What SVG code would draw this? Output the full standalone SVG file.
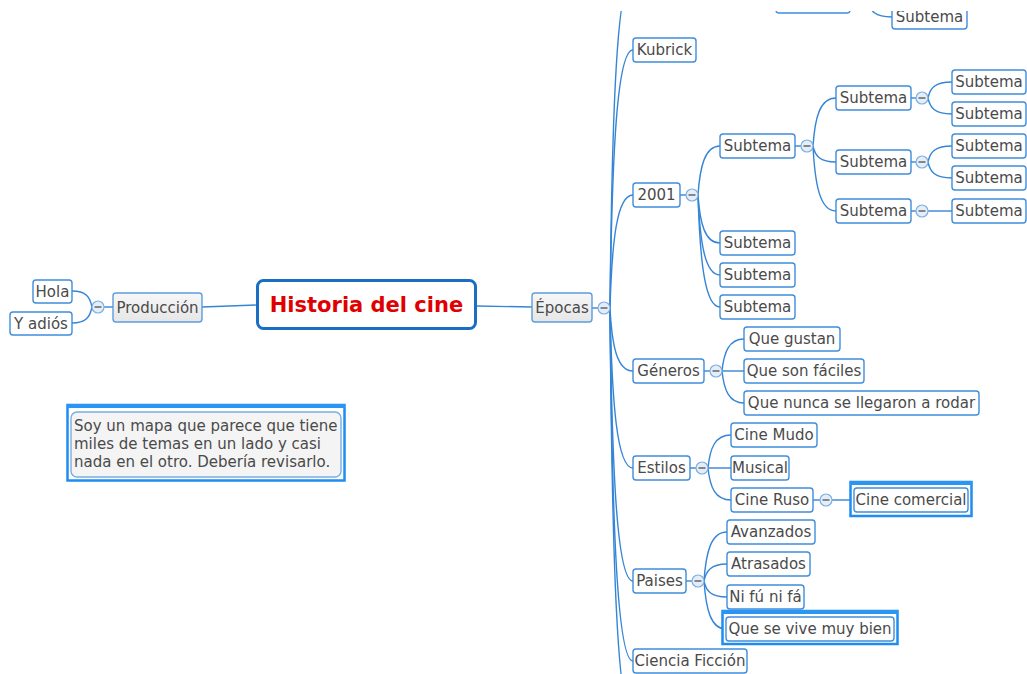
<svg xmlns="http://www.w3.org/2000/svg" width="1027" height="674" viewBox="0 0 1027 674">
<defs>
<style>
.c{fill:none;stroke:#3585d6;stroke-width:1.4}
.b{fill:#fff;stroke:#3f8ddb;stroke-width:1.4}
.g{fill:url(#gr);stroke:#5c9ddf;stroke-width:1.4}
.t{font-family:"DejaVu Sans",Verdana,sans-serif;font-size:15px;fill:#4a4a4a;text-anchor:middle}
.tl{font-family:"DejaVu Sans",Verdana,sans-serif;font-size:15px;fill:#4a4a4a}
.k{fill:#e3eef9;stroke:#7eaee0;stroke-width:1.2}
.m{stroke:#444;stroke-width:1.2}
.sel{fill:#fff;stroke:#1e8cf0;stroke-width:2.5}
.selt{fill:#2b95f3}
</style>
<linearGradient id="gr" x1="0" y1="0" x2="0" y2="1">
<stop offset="0" stop-color="#f7f7f7"/>
<stop offset="1" stop-color="#e6e6e6"/>
</linearGradient>
<clipPath id="clip"><rect x="0" y="11" width="1027" height="663"/></clipPath>
</defs>
<rect width="1027" height="674" fill="#fff"/>
<g clip-path="url(#clip)">
<g id="connectors">
<path class="c" d="M257 305 L202 307"/>
<path class="c" d="M476 306 L532 307"/>
<path class="c" d="M113 307 L104 307"/>
<path class="c" d="M92 307 C90 297 86 291 72 291"/>
<path class="c" d="M92 307 C90 317 86 323 72 323"/>
<path class="c" d="M592 308 L598 308"/>
<path class="c" d="M610 308 C612 108 617 -25 633 -25"/>
<path class="c" d="M610 308 C612 153 617 50 633 50"/>
<path class="c" d="M610 308 C612 240 617 195 633 195"/>
<path class="c" d="M610 308 C612 346 617 371 633 371"/>
<path class="c" d="M610 308 C612 404 617 468 633 468"/>
<path class="c" d="M610 308 C612 472 617 581 633 581"/>
<path class="c" d="M610 308 C612 520 617 661 633 661"/>
<path class="c" d="M610 308 C612 555 617 720 633 720"/>
<path class="c" d="M868 1 C870 11 875 17 892 17"/>
<path class="c" d="M680 195 L686 195"/>
<path class="c" d="M698 195 C700 166 705 146 720 146"/>
<path class="c" d="M698 195 C700 224 705 243 720 243"/>
<path class="c" d="M698 195 C700 243 705 275 720 275"/>
<path class="c" d="M698 195 C700 262 705 307 720 307"/>
<path class="c" d="M795 146 L801 146"/>
<path class="c" d="M813 146 C815 117 820 98 836 98"/>
<path class="c" d="M813 146 C815 156 820 162 836 162"/>
<path class="c" d="M813 146 C815 185 820 211 836 211"/>
<path class="c" d="M911 98 L916 98"/>
<path class="c" d="M911 162 L916 162"/>
<path class="c" d="M911 211 L916 211"/>
<path class="c" d="M928 98 C930 88 935 82 952 82"/>
<path class="c" d="M928 98 C930 108 935 114 952 114"/>
<path class="c" d="M928 162 C930 152 935 146 952 146"/>
<path class="c" d="M928 162 C930 172 935 178 952 178"/>
<path class="c" d="M928 211 L952 211"/>
<path class="c" d="M704 371 L710 371"/>
<path class="c" d="M722 371 C724 352 729 339 744 339"/>
<path class="c" d="M722 371 L744 371"/>
<path class="c" d="M722 371 C724 390 729 403 744 403"/>
<path class="c" d="M690 468 L696 468"/>
<path class="c" d="M708 468 C710 448 715 435 731 435"/>
<path class="c" d="M708 468 L731 468"/>
<path class="c" d="M708 468 C710 487 715 500 731 500"/>
<path class="c" d="M813 500 L820 500"/>
<path class="c" d="M832 500 L854 500"/>
<path class="c" d="M686 581 L692 581"/>
<path class="c" d="M704 581 C706 552 711 532 727 532"/>
<path class="c" d="M704 581 C706 571 711 564 727 564"/>
<path class="c" d="M704 581 C706 591 711 597 727 597"/>
<path class="c" d="M704 581 C706 610 711 629 726 629"/>
</g>
<g id="collapse">
<circle class="k" cx="98" cy="307" r="6"/><path class="m" d="M94.5 307h7"/>
<circle class="k" cx="604" cy="308" r="6"/><path class="m" d="M600.5 308h7"/>
<circle class="k" cx="692" cy="195" r="6"/><path class="m" d="M688.5 195h7"/>
<circle class="k" cx="807" cy="146" r="6"/><path class="m" d="M803.5 146h7"/>
<circle class="k" cx="922" cy="98" r="6"/><path class="m" d="M918.5 98h7"/>
<circle class="k" cx="922" cy="162" r="6"/><path class="m" d="M918.5 162h7"/>
<circle class="k" cx="922" cy="211" r="6"/><path class="m" d="M918.5 211h7"/>
<circle class="k" cx="716" cy="371" r="6"/><path class="m" d="M712.5 371h7"/>
<circle class="k" cx="702" cy="468" r="6"/><path class="m" d="M698.5 468h7"/>
<circle class="k" cx="826" cy="500" r="6"/><path class="m" d="M822.5 500h7"/>
<circle class="k" cx="698" cy="581" r="6"/><path class="m" d="M694.5 581h7"/>
</g>
<g id="n-historia"><rect x="257.5" y="280.5" width="218" height="48" rx="6" fill="#fff" stroke="#1a6fc4" stroke-width="3"/><text x="366.5" y="312" style="font-family:'DejaVu Sans',Verdana,sans-serif;font-size:21px;font-weight:bold;fill:#e00000;text-anchor:middle">Historia del cine</text></g>
<g id="n-produccion"><rect class="g" x="113" y="293" width="89" height="29" rx="3"/><text class="t" x="157.5" y="312.5">Producción</text></g>
<g id="n-hola"><rect class="b" x="33" y="280" width="39" height="23" rx="3"/><text class="t" x="52.5" y="296.5">Hola</text></g>
<g id="n-yadios"><rect class="b" x="10" y="312" width="62" height="23" rx="3"/><text class="t" x="41" y="328.5">Y adiós</text></g>
<g id="n-epocas"><rect class="g" x="532" y="293" width="60" height="29" rx="3"/><text class="t" x="562" y="313">Épocas</text></g>
<g id="n-top1"><rect class="b" x="776" y="-11" width="74" height="24" rx="3"/></g>
<g id="n-top2"><rect class="b" x="892" y="5" width="75" height="24" rx="3"/><text class="t" x="929.5" y="22">Subtema</text></g>
<g id="n-kubrick"><rect class="b" x="633" y="38" width="63" height="24" rx="3"/><text class="t" x="664.5" y="55">Kubrick</text></g>
<g id="n-2001"><rect class="b" x="633" y="183" width="47" height="24" rx="3"/><text class="t" x="656.5" y="200">2001</text></g>
<g id="n-sub1"><rect class="b" x="720" y="134" width="75" height="24" rx="3"/><text class="t" x="757.5" y="151">Subtema</text></g>
<g id="n-sub2"><rect class="b" x="720" y="231" width="75" height="24" rx="3"/><text class="t" x="757.5" y="248">Subtema</text></g>
<g id="n-sub3"><rect class="b" x="720" y="263" width="75" height="24" rx="3"/><text class="t" x="757.5" y="280">Subtema</text></g>
<g id="n-sub4"><rect class="b" x="720" y="295" width="75" height="24" rx="3"/><text class="t" x="757.5" y="312">Subtema</text></g>
<g id="n-sub11"><rect class="b" x="836" y="86" width="75" height="24" rx="3"/><text class="t" x="873.5" y="103">Subtema</text></g>
<g id="n-sub12"><rect class="b" x="836" y="150" width="75" height="24" rx="3"/><text class="t" x="873.5" y="167">Subtema</text></g>
<g id="n-sub13"><rect class="b" x="836" y="199" width="75" height="24" rx="3"/><text class="t" x="873.5" y="216">Subtema</text></g>
<g id="n-sub111"><rect class="b" x="952" y="70" width="74" height="24" rx="3"/><text class="t" x="989" y="87">Subtema</text></g>
<g id="n-sub112"><rect class="b" x="952" y="102" width="74" height="24" rx="3"/><text class="t" x="989" y="119">Subtema</text></g>
<g id="n-sub121"><rect class="b" x="952" y="134" width="74" height="24" rx="3"/><text class="t" x="989" y="151">Subtema</text></g>
<g id="n-sub122"><rect class="b" x="952" y="166" width="74" height="24" rx="3"/><text class="t" x="989" y="183">Subtema</text></g>
<g id="n-sub131"><rect class="b" x="952" y="199" width="74" height="24" rx="3"/><text class="t" x="989" y="216">Subtema</text></g>
<g id="n-generos"><rect class="b" x="633" y="359" width="71" height="24" rx="3"/><text class="t" x="668.5" y="376">Géneros</text></g>
<g id="n-quegustan"><rect class="b" x="744" y="327" width="96" height="24" rx="3"/><text class="t" x="792" y="344">Que gustan</text></g>
<g id="n-quesonfaciles"><rect class="b" x="744" y="359" width="120" height="24" rx="3"/><text class="t" x="804" y="376">Que son fáciles</text></g>
<g id="n-quenunca"><rect class="b" x="744" y="391" width="235" height="24" rx="3"/><text class="t" x="861.5" y="408">Que nunca se llegaron a rodar</text></g>
<g id="n-estilos"><rect class="b" x="633" y="456" width="57" height="24" rx="3"/><text class="t" x="661.5" y="473">Estilos</text></g>
<g id="n-cinemudo"><rect class="b" x="731" y="423" width="86" height="24" rx="3"/><text class="t" x="774" y="440">Cine Mudo</text></g>
<g id="n-musical"><rect class="b" x="731" y="456" width="58" height="24" rx="3"/><text class="t" x="760" y="473">Musical</text></g>
<g id="n-cineruso"><rect class="b" x="731" y="488" width="82" height="24" rx="3"/><text class="t" x="772" y="505">Cine Ruso</text></g>
<g id="n-cinecomercial"><rect class="sel" x="850.5" y="482" width="121" height="34"/><rect class="selt" x="850" y="481" width="122" height="4"/><rect class="b" x="854" y="488" width="114" height="24" rx="3"/><text class="t" x="911" y="505">Cine comercial</text></g>
<g id="n-paises"><rect class="b" x="633" y="569" width="53" height="24" rx="3"/><text class="t" x="659.5" y="586">Paises</text></g>
<g id="n-avanzados"><rect class="b" x="727" y="520" width="88" height="24" rx="3"/><text class="t" x="771" y="537">Avanzados</text></g>
<g id="n-atrasados"><rect class="b" x="727" y="552" width="83" height="24" rx="3"/><text class="t" x="768.5" y="569">Atrasados</text></g>
<g id="n-nifu"><rect class="b" x="727" y="585" width="77" height="24" rx="3"/><text class="t" x="765.5" y="602">Ni fú ni fá</text></g>
<g id="n-quesevive"><rect class="sel" x="722.5" y="611" width="175" height="33"/><rect class="selt" x="722" y="610" width="176" height="4"/><rect class="b" x="726" y="617" width="168" height="24" rx="3"/><text class="t" x="810" y="634">Que se vive muy bien</text></g>
<g id="n-ciencia"><rect class="b" x="633" y="649" width="114" height="24" rx="3"/><text class="t" x="690" y="666">Ciencia Ficción</text></g>
<g id="n-nota"><rect class="sel" x="67.5" y="405" width="277" height="75.5"/><rect class="selt" x="67" y="404" width="278" height="4"/><rect x="71" y="412" width="270" height="65" rx="6" fill="#f4f4f4" stroke="#7aaee0" stroke-width="1.4"/><text class="tl" x="74" y="431">Soy un mapa que parece que tiene</text><text class="tl" x="74" y="449">miles de temas en un lado y casi</text><text class="tl" x="74" y="467">nada en el otro. Debería revisarlo.</text></g>
</g>
</svg>
